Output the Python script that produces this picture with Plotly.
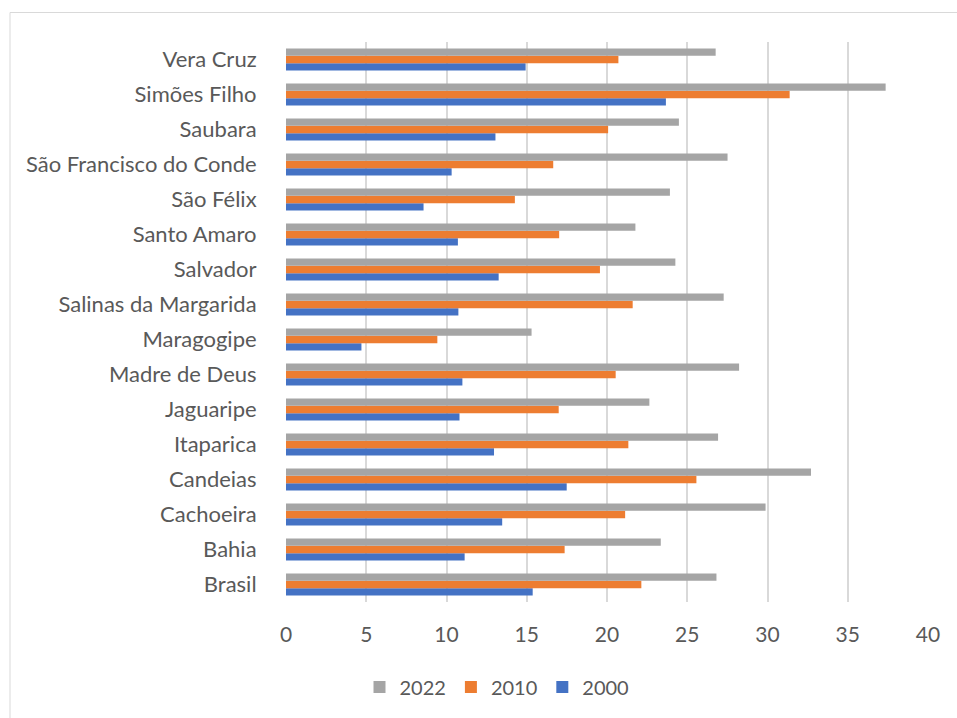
import plotly.graph_objects as go

categories = ["Brasil", "Bahia", "Cachoeira", "Candeias", "Itaparica", "Jaguaripe",
              "Madre de Deus", "Maragogipe", "Salinas da Margarida", "Salvador",
              "Santo Amaro", "São Félix", "São Francisco do Conde", "Saubara",
              "Simões Filho", "Vera Cruz"]

v2000 = [15.37, 11.13, 13.47, 17.49, 12.96, 10.81, 10.99, 4.70, 10.74, 13.25,
         10.71, 8.57, 10.32, 13.05, 23.67, 14.93]
v2010 = [22.14, 17.36, 21.13, 25.57, 21.33, 16.99, 20.54, 9.43, 21.60, 19.56,
         17.02, 14.26, 16.65, 20.07, 31.38, 20.71]
v2022 = [26.82, 23.35, 29.88, 32.71, 26.92, 22.64, 28.23, 15.30, 27.27, 24.26,
         21.77, 23.92, 27.51, 24.48, 37.36, 26.77]

tick_vals = [0, 5, 10, 15, 20, 25, 30, 35, 40]

FONT = "Lato, 'Open Sans', sans-serif"
TXT = "#595959"

fig = go.Figure()
fig.add_trace(go.Bar(y=categories, x=v2000, name="2000", orientation="h",
                     marker=dict(color="#4472C4", line=dict(width=0))))
fig.add_trace(go.Bar(y=categories, x=v2010, name="2010", orientation="h",
                     marker=dict(color="#ED7D31", line=dict(width=0))))
fig.add_trace(go.Bar(y=categories, x=v2022, name="2022", orientation="h",
                     marker=dict(color="#A5A5A5", line=dict(width=0))))

L, T, R, B = 286, 42, 29, 116
W, H = 957, 718
pw, ph = W - L - R, H - T - B

def px(x):
    return (x - L) / pw

def py(y):
    return (T + ph - y) / ph

fig.update_layout(
    width=W, height=H,
    margin=dict(l=L, r=R, t=T, b=B, pad=0),
    paper_bgcolor="white", plot_bgcolor="white",
    barmode="group", bargap=0.37, bargroupgap=0,
    font=dict(family=FONT, size=21, color=TXT),
    showlegend=True,
    legend=dict(orientation="h", traceorder="reversed",
                x=px(497), xanchor="center", y=py(687), yanchor="middle",
                font=dict(size=20, color=TXT), itemwidth=30,
                bgcolor="rgba(0,0,0,0)"),
    xaxis=dict(range=[0, 40], tickvals=tick_vals, ticktext=[str(t) for t in tick_vals],
               showgrid=True, gridcolor="#D9D9D9", gridwidth=1.5,
               zeroline=False, showline=False,
               ticks="outside", ticklen=14, tickcolor="rgba(0,0,0,0)",
               tickfont=dict(size=21, color=TXT), fixedrange=True),
    yaxis=dict(type="category", categoryorder="array", categoryarray=categories,
               showgrid=False, zeroline=False, showline=False,
               ticks="outside", ticklen=24, tickcolor="rgba(0,0,0,0)",
               tickfont=dict(size=22, color=TXT), fixedrange=True),
    shapes=[dict(type="rect", xref="paper", yref="paper",
                 x0=px(10), x1=px(962), y0=py(730), y1=py(12.5),
                 line=dict(color="#D9D9D9", width=1), fillcolor="rgba(0,0,0,0)",
                 layer="below")],
)

fig.write_html("out.html")
